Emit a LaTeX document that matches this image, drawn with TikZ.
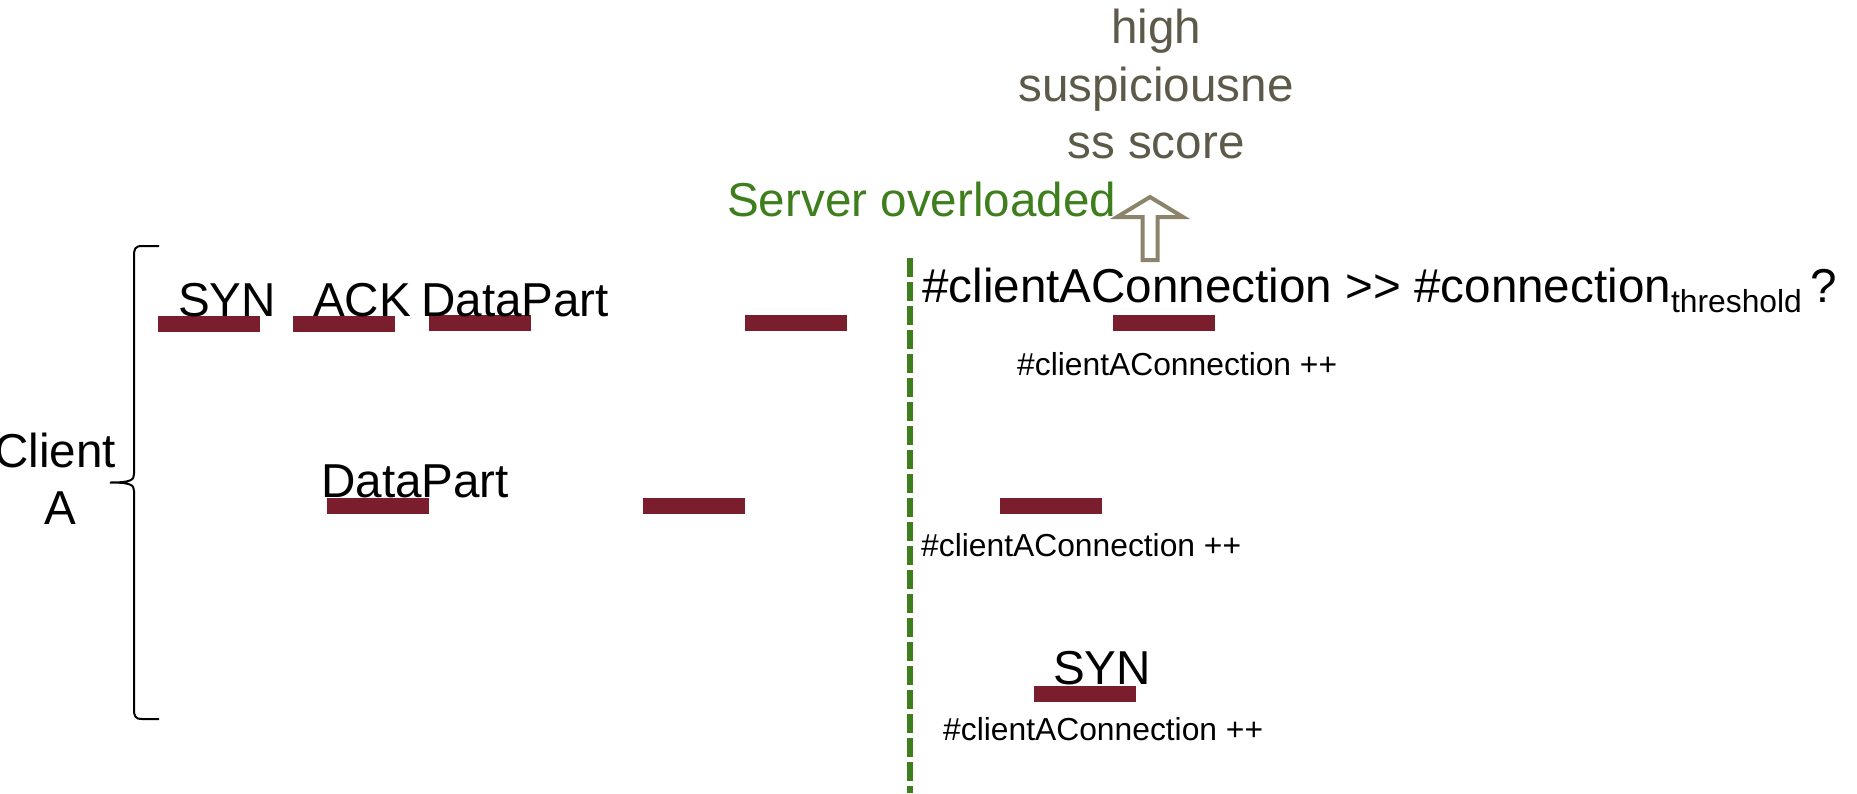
\documentclass[tikz,border=0pt]{standalone}
\usepackage{fontspec}
\setmainfont{Liberation Sans}
\definecolor{barred}{RGB}{122,29,45}
\definecolor{srvgreen}{RGB}{62,126,28}
\definecolor{scoregray}{RGB}{94,90,74}
\definecolor{arrowkhaki}{RGB}{140,132,106}
\tikzset{
  pkt/.style={fill=barred, draw=none, minimum width=102pt, minimum height=16pt, inner sep=0pt},
  big/.style={inner sep=0pt, font=\fontsize{47.6}{57}\selectfont},
  small/.style={inner sep=0pt, font=\fontsize{31.8}{38}\selectfont},
  divider/.style={draw=srvgreen, line width=5.7pt, dash pattern=on 19pt off 5pt},
  bracket/.style={draw=black, line width=2pt},
  upblock/.style={draw=arrowkhaki, fill=white, line width=4pt, line join=miter},
}
\begin{document}
\begin{tikzpicture}[x=1pt, y=-1pt]
\useasboundingbox (0,0) rectangle (1857,793);

% server-side divider
\coordinate (dtop) at (910,258);
\coordinate (dbot) at (910,793);
\draw[divider] (dtop) -- (dbot);

% packets sent by client A
\node[pkt] (b1) at (208.5,324) {};
\node[pkt] (b2) at (343.5,324) {};
\node[pkt] (b3) at (479.7,323) {};
\node[pkt] (b4) at (796,323) {};
\node[pkt] (b5) at (378,506) {};
\node[pkt] (b6) at (694,506) {};
\node[pkt] (b7) at (1164,323) {};
\node[pkt] (b8) at (1051,506) {};
\node[pkt] (b9) at (1085,694) {};

% packet labels
\node[big, anchor=base west] (syn1) at (178,316) {SYN};
\node[big, anchor=base west] (ack) at (313,316) {ACK};
\node[big, anchor=base west] (data1) at (421,316) {DataPart};
\node[big, anchor=base west] (data2) at (321,497) {DataPart};
\node[big, anchor=base west] (syn2) at (1053,684) {SYN};

% client label and its brace
\node[big, anchor=base] (client) at (55,467) {Client};
\node[big, anchor=base] (clienta) at (60,524) {A};
\coordinate (brtop) at (159,246);
\coordinate (brmid) at (110,482.5);
\coordinate (brbot) at (159,719);
\draw[bracket] (brtop) -- (142,246) .. controls (135,246) and (134,249) .. (134,256)
  -- (134,474) .. controls (134,480) and (131,482.5) .. (brmid)
  .. controls (131,482.5) and (134,485) .. (134,491)
  -- (134,709) .. controls (134,716) and (135,719) .. (142,719) -- (brbot);

% server-side counting
\node[big, anchor=base west] (cond) at (922,302)
  {\#clientAConnection >{}> \#connection\raisebox{-10pt}{\fontsize{31.8}{38}\selectfont threshold }?};
\node[small, anchor=base west] (inc1) at (1017,375) {\#clientAConnection ++};
\node[small, anchor=base west] (inc2) at (921,556) {\#clientAConnection ++};
\node[small, anchor=base west] (inc3) at (943,740) {\#clientAConnection ++};

\node[big, anchor=base west, text=srvgreen] (srv) at (727,216) {Server overloaded};

% resulting score
\node[big, anchor=base, text=scoregray] (score1) at (1156,43) {high};
\node[big, anchor=base, text=scoregray] (score2) at (1156,101) {suspiciousne};
\node[big, anchor=base, text=scoregray] (score3) at (1156,158) {ss score};

% hollow block arrow from the check up to the score
\coordinate (atip) at (1150,197);
\coordinate (abase) at (1150,260);
\draw[upblock] (atip) -- (1183,217) -- (1157.5,217) -- (1157.5,260) -- (1142.5,260)
  -- (1142.5,217) -- (1117,217) -- cycle;
\end{tikzpicture}
\end{document}
